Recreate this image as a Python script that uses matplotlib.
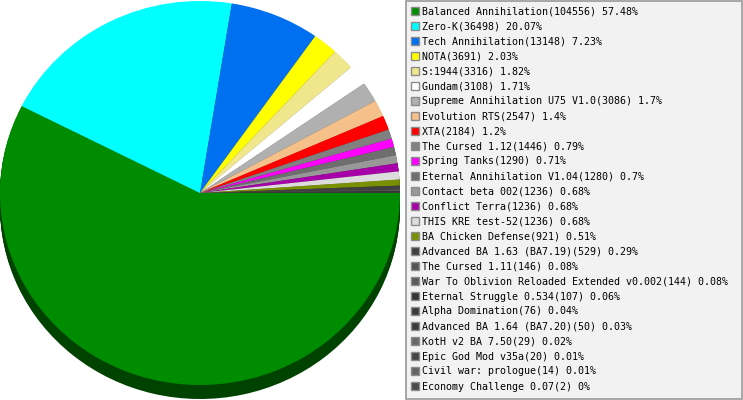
import matplotlib
matplotlib.use("Agg")
import matplotlib.pyplot as plt
from matplotlib.patches import Rectangle

names = ["Balanced Annihilation", "Zero-K", "Tech Annihilation", "NOTA", "S:1944",
         "Gundam", "Supreme Annihilation U75 V1.0", "Evolution RTS", "XTA",
         "The Cursed 1.12", "Spring Tanks", "Eternal Annihilation V1.04",
         "Contact beta 002", "Conflict Terra", "THIS KRE test-52",
         "BA Chicken Defense", "Advanced BA 1.63 (BA7.19)", "The Cursed 1.11",
         "War To Oblivion Reloaded Extended v0.002", "Eternal Struggle 0.534",
         "Alpha Domination", "Advanced BA 1.64 (BA7.20)", "KotH v2 BA 7.50",
         "Epic God Mod v35a", "Civil war: prologue", "Economy Challenge 0.07"]
counts = [104556, 36498, 13148, 3691, 3316, 3108, 3086, 2547, 2184, 1446, 1290,
          1280, 1236, 1236, 1236, 921, 529, 146, 144, 107, 76, 50, 29, 20, 14, 2]
colors = ["#008c00", "#00ffff", "#0070f0", "#ffff00", "#f0e68c", "#ffffff",
          "#b0b0b0", "#f5c08a", "#ff0000", "#808080", "#ff00ff", "#6e6e6e",
          "#989898", "#a800a8", "#dcdcdc", "#7a9000", "#404040", "#545454",
          "#5a5a5a", "#363636", "#3c3c3c", "#3a3a3a", "#686868", "#444444",
          "#646464", "#4a4a4a"]


def darken(c, f=0.5):
    r, g, b = matplotlib.colors.to_rgb(c)
    return (r * f, g * f, b * f)


W, H = 743, 400
fig = plt.figure(figsize=(W / 100, H / 100), dpi=100)
fig.patch.set_facecolor("white")

# pie axes: 400 px wide, full height; 200 px per x unit, 192 px per y unit
ax = fig.add_axes([0, 0, 400 / W, 1])
cy = 207  # pie centre from bottom in px
ax.set_xlim(-1, 1)
ax.set_ylim(-cy / 192, (H - cy) / 192)
ax.set_aspect("auto")
ax.axis("off")

depth = 14
dark = [darken(c, 0.48) for c in colors]
for k in range(depth, 0, -1):
    ax.pie(counts, colors=dark, startangle=0, counterclock=False,
           center=(0, -k / 192), radius=1,
           wedgeprops=dict(linewidth=0, antialiased=True))
ax.pie(counts, colors=colors, startangle=0, counterclock=False,
       center=(0, 0), radius=1, wedgeprops=dict(linewidth=0, antialiased=True))
ax.set_xlim(-1, 1)
ax.set_ylim(-cy / 192, (H - cy) / 192)
ax.set_aspect("auto")

# legend axes in pixel coordinates (y down)
lg = fig.add_axes([0, 0, 1, 1], facecolor="none")
lg.set_xlim(0, W)
lg.set_ylim(H, 0)
lg.axis("off")
lg.add_patch(Rectangle((406, 0.5), 336, 398, facecolor="#f2f2f2",
                       edgecolor="#999999", linewidth=1.2))
total = sum(counts)
for i, (n, c, col) in enumerate(zip(names, counts, colors)):
    y = 11.5 + 15 * i
    lg.add_patch(Rectangle((410.5, y - 4.5), 8, 8, facecolor=col,
                           edgecolor="#8c8c8c", linewidth=1))
    pct = f"{round(100 * c / total, 2):g}"
    lg.text(422.5, y, f"{n}({c}) {pct}%", fontsize=7.2,
            family="DejaVu Sans Mono", va="center", ha="left", color="black")

fig.savefig("out.png", dpi=100, facecolor="white")
